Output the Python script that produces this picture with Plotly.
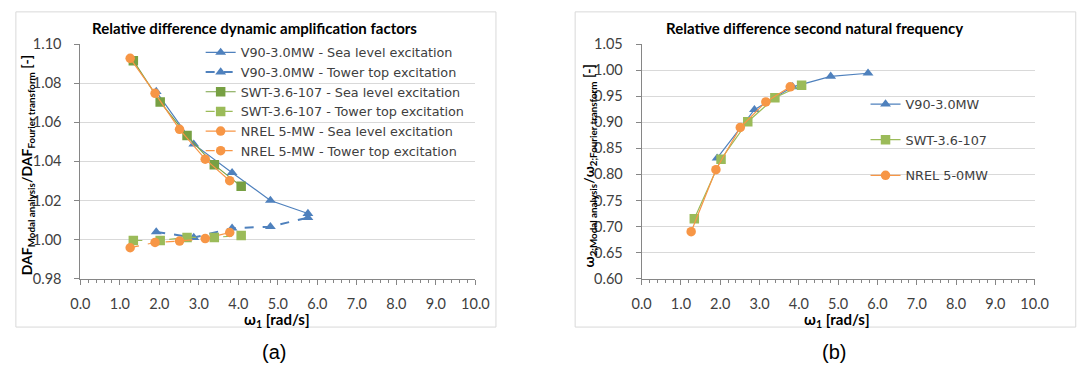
import plotly.graph_objects as go

# ---- data -------------------------------------------------------------
# first natural frequency omega_1 [rad/s] per turbine
v90_w1 = [1.92, 2.87, 3.84, 4.81, 5.76]
swt_w1 = [1.34, 2.02, 2.70, 3.39, 4.07]
nrel_w1 = [1.26, 1.89, 2.51, 3.16, 3.78]

# DAF ratio (modal analysis / Fourier transform)
v90_daf_sea = [1.0757, 1.0488, 1.0342, 1.0200, 1.0133]
v90_daf_top = [1.0039, 1.0010, 1.0058, 1.0066, 1.0112]
swt_daf_sea = [1.0915, 1.0704, 1.0532, 1.0382, 1.0272]
swt_daf_top = [0.9995, 0.9995, 1.0011, 1.0011, 1.0021]
nrel_daf_sea = [1.0927, 1.0748, 1.0564, 1.0411, 1.0301]
nrel_daf_top = [0.9958, 0.9985, 0.9992, 1.0005, 1.0036]

# second natural frequency ratio (modal analysis / Fourier transform)
v90_w2 = [0.831, 0.924, 0.968, 0.988, 0.994]
swt_w2 = [0.715, 0.829, 0.901, 0.947, 0.971]
nrel_w2 = [0.690, 0.809, 0.890, 0.939, 0.968]

x_ticks = [0, 1, 2, 3, 4, 5, 6, 7, 8, 9, 10]
daf_ticks = [0.98, 1.00, 1.02, 1.04, 1.06, 1.08, 1.10]
w2_ticks = [0.60, 0.65, 0.70, 0.75, 0.80, 0.85, 0.90, 0.95, 1.00, 1.05]

# ---- styling ----------------------------------------------------------
BLUE = "#4F81BD"
GREEN_D = "#77A043"
GREEN_L = "#9BBB59"
ORANGE = "#F79646"
FONT = "Lato"
LEG_FONT = "DejaVu Sans"
W, H = 1079, 379

fig = go.Figure()

left = [
    ("V90-3.0MW - Sea level excitation", v90_w1, v90_daf_sea, BLUE, "triangle-up", "solid", 1.2),
    ("V90-3.0MW - Tower top excitation", v90_w1, v90_daf_top, BLUE, "triangle-up", "dash", 2.0),
    ("SWT-3.6-107 - Sea level excitation", swt_w1, swt_daf_sea, GREEN_D, "square", "solid", 1.2),
    ("SWT-3.6-107 - Tower top excitation", swt_w1, swt_daf_top, GREEN_L, "square", "dash", 1.2),
    ("NREL 5-MW - Sea level excitation", nrel_w1, nrel_daf_sea, ORANGE, "circle", "solid", 1.2),
    ("NREL 5-MW - Tower top excitation", nrel_w1, nrel_daf_top, ORANGE, "circle", "dash", 1.2),
]
for name, xs, ys, col, sym, dash, lw in left:
    fig.add_trace(go.Scatter(
        x=xs, y=ys, name=name, mode="lines+markers",
        line=dict(color=col, width=lw, dash=dash),
        marker=dict(color=col, symbol=sym, size=9.5),
        xaxis="x", yaxis="y", legend="legend",
    ))

right = [
    ("V90-3.0MW", v90_w1, v90_w2, BLUE, "triangle-up"),
    ("SWT-3.6-107", swt_w1, swt_w2, GREEN_L, "square"),
    ("NREL 5-0MW", nrel_w1, nrel_w2, ORANGE, "circle"),
]
for name, xs, ys, col, sym in right:
    fig.add_trace(go.Scatter(
        x=xs, y=ys, name=name, mode="lines+markers",
        line=dict(color=col, width=1.2),
        marker=dict(color=col, symbol=sym, size=9.5),
        xaxis="x2", yaxis="y2", legend="legend2", legendgroup=name,
    ))

# plot-area placement in pixels -> paper fractions
def px(x):
    return x / W

def py(y):
    return 1 - y / H

tick_font = dict(family=FONT, size=14.5, color="#404040")
xaxis_common = dict(
    range=[0, 10], tickvals=x_ticks, tickformat=".1f",
    ticks="outside", ticklen=5, tickcolor="#868686",
    showline=True, linecolor="#868686", linewidth=1,
    showgrid=False, zeroline=False, tickfont=tick_font,
    ticklabelstandoff=7,
    minor=dict(dtick=0.2, ticks="outside", ticklen=3, tickcolor="#868686", showgrid=False),
)
yaxis_common = dict(
    ticks="outside", ticklen=5, tickcolor="#868686",
    showline=True, linecolor="#868686", linewidth=1,
    showgrid=True, gridcolor="#D9D9D9", gridwidth=1,
    zeroline=False, tickfont=tick_font, ticklabelstandoff=10,
)

fig.update_layout(
    width=W, height=H,
    margin=dict(l=0, r=0, t=0, b=0),
    paper_bgcolor="white", plot_bgcolor="white",
    font=dict(family=FONT, color="#404040"),
    xaxis=dict(domain=[px(72), px(476)], anchor="y", **xaxis_common),
    yaxis=dict(domain=[py(282.3), py(36.7)], anchor="x", range=[0.98, 1.10],
               tickvals=daf_ticks, tickformat=".2f", **yaxis_common),
    xaxis2=dict(domain=[px(646), px(1048)], anchor="y2", **xaxis_common),
    yaxis2=dict(domain=[py(282.3), py(36.7)], anchor="x2", range=[0.60, 1.05],
                tickvals=w2_ticks, tickformat=".2f", **yaxis_common),
    legend=dict(x=px(195), y=py(30), xanchor="left", yanchor="top",
                font=dict(family=LEG_FONT, size=12.8, color="#404040"),
                bgcolor="rgba(0,0,0,0)", tracegroupgap=0),
    legend2=dict(x=px(875), y=py(84), xanchor="left", yanchor="top",
                 font=dict(family=LEG_FONT, size=12.8, color="#404040"),
                 bgcolor="rgba(0,0,0,0)", tracegroupgap=16),
    showlegend=True,
)

# chart frames
for x0, x1 in [(6, 497), (578, 1090)]:
    fig.add_shape(type="rect", xref="paper", yref="paper",
                  x0=px(x0), x1=px(x1), y0=py(333), y1=py(3),
                  line=dict(color="#D9D9D9", width=1), layer="below")

title_font = dict(family=FONT, size=15, color="#000000")
axis_title_font = dict(family=FONT, size=14, color="#000000")
x_title_font = dict(family=FONT, size=15, color="#000000")
notes = [
    dict(x=px(250), y=py(20), text="<b>Relative difference dynamic amplification factors</b>", font=title_font),
    dict(x=px(823), y=py(20), text="<b>Relative difference second natural frequency</b>", font=title_font),
    dict(x=px(273), y=py(326), text="<b>ω<sub>1</sub> [rad/s]</b>", font=x_title_font),
    dict(x=px(846), y=py(326), text="<b>ω<sub>1</sub> [rad/s]</b>", font=x_title_font),
    dict(x=px(18), y=py(164), textangle=-90,
         text="<b>DAF<sub>Modal analysis</sub>/DAF<sub>Fourier transform</sub> [-]</b>", font=axis_title_font),
    dict(x=px(593), y=py(164), textangle=-90,
         text="<b>ω<sub>2;Modal analysis</sub>/ω<sub>2;Fourier transform</sub> [-]</b>", font=axis_title_font),
    dict(x=px(270), y=py(359), text="(a)", font=dict(family="Liberation Sans", size=20, color="#000000")),
    dict(x=px(843), y=py(359), text="(b)", font=dict(family="Liberation Sans", size=20, color="#000000")),
]
for n in notes:
    fig.add_annotation(xref="paper", yref="paper", showarrow=False,
                       xanchor="center", yanchor="middle", **n)

fig.write_html("out.html")
